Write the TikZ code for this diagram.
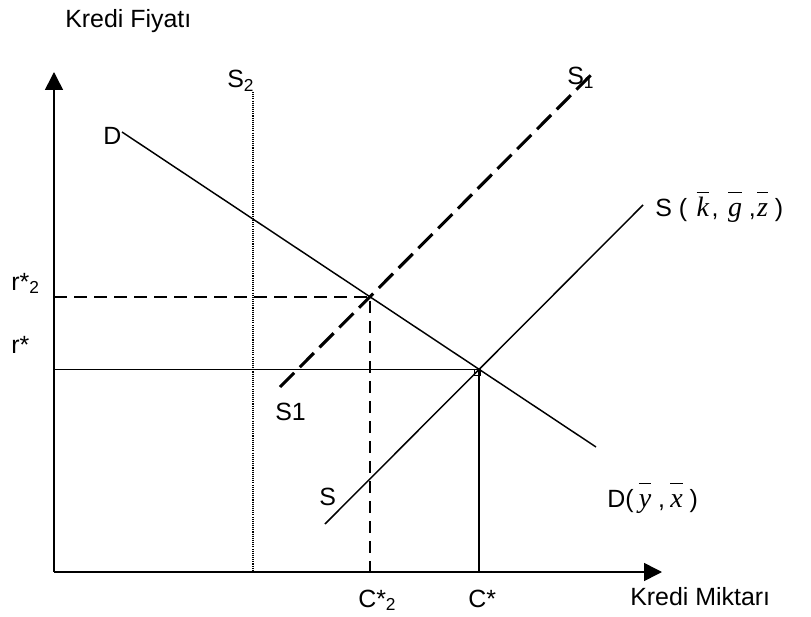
\documentclass[tikz,border=0pt]{standalone}
\usepackage{fontspec}
\setmainfont{Liberation Sans}
\newfontfamily\serifit{Liberation Serif}
\usetikzlibrary{arrows.meta}
\tikzset{
  axis/.style={line width=1.2pt, -{Triangle[length=13.5pt, width=13.5pt]}},
  curve/.style={line width=1.1pt},
  shifted/.style={line width=2.3pt, dash pattern=on 15pt off 6pt},
  guide/.style={line width=1.1pt, dash pattern=on 9.5pt off 5.5pt},
  level/.style={line width=1.1pt},
  limit/.style={line width=0.8pt, dash pattern=on 0.8pt off 0.8pt},
  lbl/.style={font=\fontsize{18.7}{22}\selectfont, inner sep=0pt, anchor=base west},
}
\newcommand{\lowsub}[1]{\raisebox{-2.5pt}{\fontsize{13}{14}\selectfont #1}}
\newcommand{\barvar}[1]{\hspace{4pt}$\overline{\mbox{\fontsize{21}{24}\serifit\itshape #1\rule{0pt}{16.5pt}}}$\hspace{2pt}}

\begin{document}
\begin{tikzpicture}[x=0.75pt, y=-0.75pt]
    \useasboundingbox (0,0) rectangle (811,617);
    % axes
    \coordinate (o) at (54,572);
    \coordinate (ytip) at (54,72);
    \coordinate (xtip) at (662,572);
    \draw[axis] (o) -- (ytip);
    \draw[axis] (o) -- (xtip);
    % curves
    \coordinate (d1) at (122,132);
    \coordinate (d2) at (596,447);
    \coordinate (s1) at (325,524);
    \coordinate (s2) at (643,205);
    \coordinate (t1) at (280,387);
    \coordinate (t2) at (593,73);
    \coordinate (v1) at (253,92);
    \coordinate (v2) at (253,572);
    \draw[curve] (d1) -- (d2);
    \draw[curve] (s1) -- (s2);
    \draw[shifted] (t1) -- (t2);
    \draw[limit] (v1) -- (v2);
    % equilibria
    \coordinate (e1) at (intersection of d1--d2 and t1--t2);
    \coordinate (e0) at (intersection of d1--d2 and s1--s2);
    \draw[guide] (e1 -| o) -- (e1) -- (e1 |- o);
    \draw[level] (e0 -| o) -- (e0) -- (e0 |- o);
    \draw[line width=0.8pt] (e0) ++(-5,0) rectangle ++(6,6);
    % labels
    \node[lbl] (ylab) at (65,28) {Kredi Fiyatı};
    \node[lbl] (xlab) at (630,605) {Kredi Miktarı};
    \node[lbl] (rtwo) at (11,290) {r*\lowsub{2}};
    \node[lbl] (rstar) at (11,353) {r*};
    \node[lbl] (ctwo) at (358,607) {C*\lowsub{2}};
    \node[lbl] (cstar) at (468,607) {C*};
    \node[lbl] (dtop) at (103,145) {D};
    \node[lbl] (dlab) at (607,507) {D(\barvar{y}\,,\barvar{x}\,)};
    \node[lbl] (slab) at (655,216) {S (\,\barvar{k},\,\barvar{g}\,,\hspace{-3pt}\barvar{z}\,)};
    \node[lbl] (slow) at (319,505) {S};
    \node[lbl] (tlow) at (275,420) {S1};
    \node[lbl] (ttop) at (567,85) {S\lowsub{1}};
    \node[lbl] (vtop) at (227,88) {S\lowsub{2}};
\end{tikzpicture}
\end{document}
